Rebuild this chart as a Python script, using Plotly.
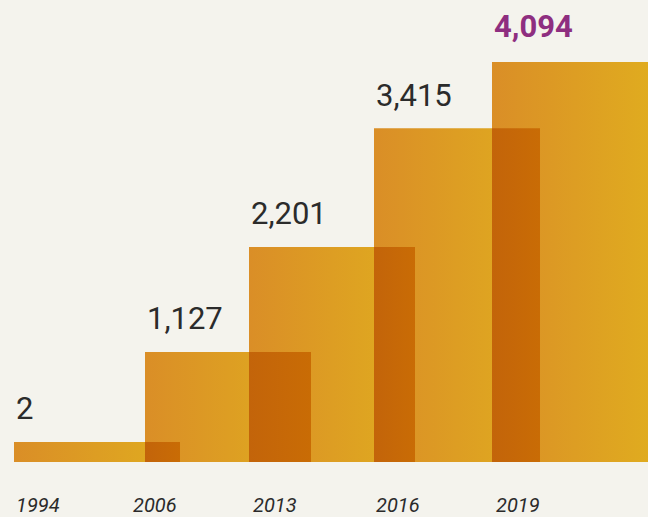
import plotly.graph_objects as go

# ---- data ----
years = ["1994", "2006", "2013", "2016", "2019"]
values = [2, 1127, 2201, 3415, 4094]
value_labels = ["2", "1,127", "2,201", "3,415", "4,094"]

# ---- layout helpers (positions on a pixel-like x axis) ----
bar_starts = [14, 145, 249, 374, 492]
bar_width = 166
year_label_centers = [38, 155, 275, 398, 518]
min_visible = 205  # minimum drawn height so tiny values remain visible

BG = "#f4f3ed"
GRAD = [[0, "#da8e27"], [1, "#e0ad1f"]]
OVER = [[0, "#c3640a"], [1, "#c96c05"]]
TEXT = "#2b2b2b"
HILITE = "#8e2e80"

heights = [max(v, min_visible) for v in values]

fig = go.Figure()

# bars as gradient-filled rectangles
for s, h in zip(bar_starts, heights):
    x0, x1 = s, s + bar_width
    fig.add_trace(go.Scatter(
        x=[x0, x1, x1, x0, x0], y=[0, 0, h, h, 0],
        mode="lines", line=dict(width=0), fill="toself",
        fillgradient=dict(type="horizontal", colorscale=GRAD),
        hoverinfo="skip", showlegend=False))

# overlap regions (darker)
for i in range(len(values) - 1):
    x0 = bar_starts[i + 1]
    x1 = bar_starts[i] + bar_width
    h = min(heights[i], heights[i + 1])
    if x1 > x0:
        fig.add_trace(go.Scatter(
            x=[x0, x1, x1, x0, x0], y=[0, 0, h, h, 0],
            mode="lines", line=dict(width=0), fill="toself",
            fillgradient=dict(type="horizontal", colorscale=OVER),
            hoverinfo="skip", showlegend=False))

annotations = []
for i, (s, h, lab) in enumerate(zip(bar_starts, heights, value_labels)):
    last = i == len(values) - 1
    annotations.append(dict(
        x=s, y=h, xref="x", yref="y", text=f"<b>{lab}</b>" if last else lab,
        showarrow=False, xanchor="left", yanchor="middle", yshift=33 if not last else 36,
        font=dict(family="Roboto", size=31, color=HILITE if last else TEXT)))

for xc, yr in zip(year_label_centers, years):
    annotations.append(dict(
        x=xc, y=0, xref="x", yref="y", text=f"<i>{yr}</i>",
        showarrow=False, xanchor="center", yanchor="middle", yshift=-43,
        font=dict(family="Roboto", size=20, color=TEXT)))

fig.update_layout(
    width=648, height=517,
    margin=dict(l=0, r=0, t=0, b=0),
    paper_bgcolor=BG, plot_bgcolor=BG,
    xaxis=dict(range=[0, 648], visible=False, fixedrange=True),
    yaxis=dict(range=[-563, 4729], visible=False, fixedrange=True),
    annotations=annotations,
    showlegend=False,
)

fig.write_html("out.html")
